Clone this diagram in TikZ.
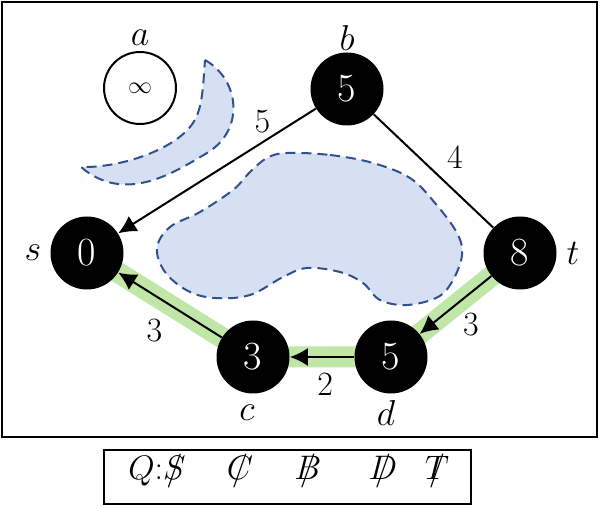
\RequirePackage{fix-cm}
\documentclass[tikz,border=0pt]{standalone}
\usepackage{amsmath,amssymb}
\usetikzlibrary{arrows.meta,backgrounds}
\definecolor{pathgreen}{RGB}{192,230,168}
\definecolor{blobfill}{RGB}{214,224,242}
\definecolor{blobline}{RGB}{47,82,143}
\newcommand{\qstruck}[1]{\ooalign{$#1$\cr\hidewidth$/$\hidewidth\cr}}

\tikzset{
  vtx/.style={circle, fill=black, text=white, minimum size=36.5pt, inner sep=0pt,
    font=\fontsize{20}{22}\selectfont},
  openvtx/.style={circle, draw, line width=1pt, minimum size=36pt, inner sep=0pt,
    font=\fontsize{12}{14}\selectfont},
  tag/.style={font=\fontsize{18}{20}\selectfont},
  wt/.style={font=\fontsize{17}{19}\selectfont},
  edge/.style={line width=1pt},
  diredge/.style={line width=1pt, -{Latex[length=9pt,width=9pt]}},
  hilite/.style={line width=10.5pt, pathgreen},
  blob/.style={fill=blobfill, draw=blobline, line width=1pt, dash pattern=on 5pt off 3pt},
}

\begin{document}
\begin{tikzpicture}[x=0.5pt, y=-0.5pt]
\useasboundingbox (0,0) rectangle (600,507);
\draw[line width=1pt] (2,2) rectangle (597,437);

% obstacles
\draw[blob] (205,60) .. controls (240,80) and (245,130) .. (207,153)
  .. controls (175,172) and (125,205) .. (81,167)
  .. controls (120,168) and (175,150) .. (193,123)
  .. controls (203,108) and (203,85) .. (205,60) -- cycle;
\draw[blob] plot[smooth cycle, tension=.6] coordinates {(287,153) (330,155) (373,163)
  (410,178) (435,203) (457,233) (462,255) (453,280) (438,297) (407,305) (380,300)
  (363,283) (340,272) (307,268) (283,277) (250,295) (215,298) (188,291) (165,272)
  (157,248) (170,227) (200,212) (233,190) (250,172) (267,158)};

% vertices
\node[openvtx] (a) at (140,88) {$\infty$};
\node[vtx] (b) at (347,89) {5};
\node[vtx] (s) at (87,253) {0};
\node[vtx] (t) at (520,253) {8};
\node[vtx] (c) at (253,357) {3};
\node[vtx] (d) at (391,357) {5};

\node[tag] (la) at (140,38) {$a$};
\node[tag] (lb) at (347,38) {$b$};
\node[tag] (ls) at (33,253) {$s$};
\node[tag] (lt) at (573,253) {$t$};
\node[tag] (lc) at (247,413) {$c$};
\node[tag] (ld) at (386,413) {$d$};

% shortest path
\begin{scope}[on background layer]
  \draw[hilite] (t.center) -- (d.center) -- (c.center) -- (s.center);
\end{scope}

% edges
\draw[diredge] (b) -- (s) node[wt, pos=.27, above=1pt] {5};
\draw[edge] (b) -- (t) node[wt, pos=.55, above right] {4};
\draw[diredge] (t) -- (d) node[wt, pos=.5, below right] {3};
\draw[diredge] (d) -- (c) node[wt, pos=.45, below=4pt] {2};
\draw[diredge] (c) -- (s) node[wt, pos=.5, below left, yshift=-3pt] {3};

% queue
\node[draw, line width=1pt, minimum width=183.5pt, minimum height=27pt] (queue) at (287.5,477) {};
\node[wt] (q1) at (157,472) {$Q$:\qstruck{S}};
\node[wt] (q2) at (240,472) {\qstruck{C}};
\node[wt] (q3) at (308,472) {\qstruck{B}};
\node[wt] (q4) at (383,472) {\qstruck{D}};
\node[wt] (q5) at (437,472) {\qstruck{T}};
\end{tikzpicture}
\end{document}
